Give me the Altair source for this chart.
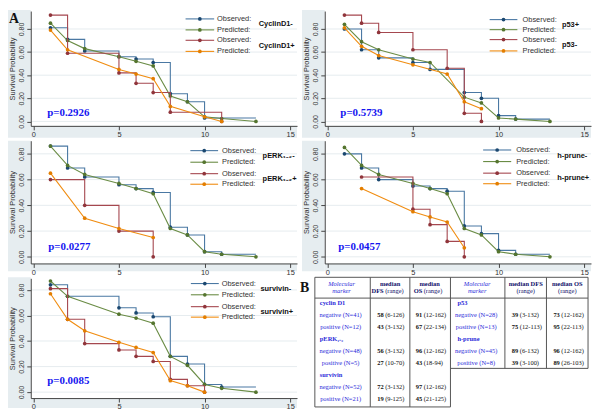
import altair as alt
import pandas as pd

# ---------------- data ----------------
GROUP_A = ["CyclinD1-", "p53+", "pERK\u2081\u208b\u2082-", "h-prune-", "survivin-"]
GROUP_B = ["CyclinD1+", "p53-", "pERK\u2081\u208b\u2082+", "h-prune+", "survivin+"]
P_VALUES = ["p=0.2926", "p=0.5739", "p=0.0277", "p=0.0457", "p=0.0085"]
LAST_FOLLOWUP = 13
Y_TICKS = [0, 0.2, 0.4, 0.6, 0.8]
X_TICKS = [0, 5, 10, 15]

# panel 1: cyclin D1
cyc_obsA_t = [1, 2, 3, 5, 6, 7, 8, 9, 10]
cyc_obsA_s = [0.81, 0.71, 0.61, 0.56, 0.54, 0.51, 0.24, 0.17, 0.03]
cyc_predA_t = [1, 2, 3, 5, 6, 7, 8, 9, 10, 11, 13]
cyc_predA_s = [0.85, 0.70, 0.63, 0.56, 0.52, 0.48, 0.22, 0.17, 0.04, 0.025, 0.0]
cyc_obsB_t = [1, 2, 5, 6, 7, 8, 11]
cyc_obsB_s = [0.92, 0.59, 0.42, 0.33, 0.25, 0.08, 0.0]
cyc_predB_t = [1, 2, 5, 6, 7, 8, 10, 11]
cyc_predB_s = [0.79, 0.62, 0.45, 0.41, 0.37, 0.13, 0.04, 0.0]

# panel 2: p53
p53_obsA_t = [1, 2, 3, 5, 6, 8, 9, 10, 11]
p53_obsA_s = [0.80, 0.62, 0.55, 0.51, 0.45, 0.25, 0.20, 0.05, 0.02]
p53_predA_t = [1, 2, 3, 5, 6, 8, 9, 10, 11, 13]
p53_predA_s = [0.84, 0.69, 0.62, 0.54, 0.51, 0.21, 0.16, 0.03, 0.02, 0.0]
p53_obsB_t = [1, 2, 3, 5, 7, 8, 9]
p53_obsB_s = [0.92, 0.85, 0.77, 0.62, 0.46, 0.07, 0.0]
p53_predB_t = [1, 2, 3, 5, 7, 8, 9]
p53_predB_s = [0.81, 0.65, 0.57, 0.49, 0.41, 0.17, 0.11]

# panel 3: pERK1-2
erk_obsA_t = [1, 2, 3, 5, 6, 7, 8, 9, 10, 11]
erk_obsA_s = [0.86, 0.69, 0.62, 0.56, 0.53, 0.50, 0.23, 0.17, 0.04, 0.02]
erk_predA_t = [1, 2, 3, 5, 6, 7, 8, 9, 10, 11, 13]
erk_predA_s = [0.86, 0.71, 0.64, 0.57, 0.53, 0.49, 0.22, 0.17, 0.04, 0.02, 0.0]
erk_obsB_t = [1, 3, 5, 7]
erk_obsB_s = [0.60, 0.40, 0.20, 0.0]
erk_predB_t = [1, 3, 5, 7]
erk_predB_s = [0.65, 0.30, 0.22, 0.15]

# panel 4: h-prune
hpr_obsA_t = [1, 2, 3, 5, 6, 7, 8, 9, 10, 11]
hpr_obsA_s = [0.80, 0.69, 0.60, 0.55, 0.53, 0.51, 0.24, 0.18, 0.05, 0.02]
hpr_predA_t = [1, 2, 3, 5, 6, 7, 8, 9, 10, 11, 13]
hpr_predA_s = [0.85, 0.71, 0.64, 0.57, 0.53, 0.49, 0.22, 0.17, 0.04, 0.02, 0.0]
hpr_obsB_t = [2, 5, 6, 7, 8]
hpr_obsB_s = [0.62, 0.37, 0.25, 0.12, 0.0]
hpr_predB_t = [2, 5, 6, 7, 8]
hpr_predB_s = [0.53, 0.35, 0.31, 0.27, 0.07]

# panel 5: survivin
sur_obsA_t = [1, 2, 5, 6, 7, 8, 9, 10, 11]
sur_obsA_s = [0.84, 0.75, 0.66, 0.62, 0.59, 0.28, 0.22, 0.06, 0.04]
sur_predA_t = [1, 2, 5, 6, 7, 8, 9, 10, 11, 13]
sur_predA_s = [0.87, 0.75, 0.61, 0.58, 0.54, 0.28, 0.21, 0.06, 0.03, 0.0]
sur_obsB_t = [1, 2, 3, 5, 6, 7, 8, 9, 10]
sur_obsB_s = [0.81, 0.57, 0.38, 0.33, 0.28, 0.24, 0.10, 0.05, 0.0]
sur_predB_t = [1, 2, 3, 5, 6, 7, 8, 9, 10]
sur_predB_s = [0.77, 0.57, 0.48, 0.39, 0.35, 0.31, 0.09, 0.05, 0.0]

PANELS = [
    (cyc_obsA_t, cyc_obsA_s, cyc_predA_t, cyc_predA_s, cyc_obsB_t, cyc_obsB_s, cyc_predB_t, cyc_predB_s),
    (p53_obsA_t, p53_obsA_s, p53_predA_t, p53_predA_s, p53_obsB_t, p53_obsB_s, p53_predB_t, p53_predB_s),
    (erk_obsA_t, erk_obsA_s, erk_predA_t, erk_predA_s, erk_obsB_t, erk_obsB_s, erk_predB_t, erk_predB_s),
    (hpr_obsA_t, hpr_obsA_s, hpr_predA_t, hpr_predA_s, hpr_obsB_t, hpr_obsB_s, hpr_predB_t, hpr_predB_s),
    (sur_obsA_t, sur_obsA_s, sur_predA_t, sur_predA_s, sur_obsB_t, sur_obsB_s, sur_predB_t, sur_predB_s),
]

# table B
TBL_L_GROUPS = ["cyclin D1", "pERK\u2081\u208b\u2082", "survivin"]
TBL_L_SUB = ["negative (N=41)", "positive (N=12)", "negative (N=48)",
             "positive (N=5)", "negative (N=52)", "positive (N=21)"]
TBL_L_DFS_MED = ["58", "43", "56", "27", "72", "19"]
TBL_L_DFS_RNG = ["(6-126)", "(3-132)", "(3-132)", "(10-70)", "(3-132)", "(9-125)"]
TBL_L_OS_MED = ["91", "67", "96", "43", "97", "45"]
TBL_L_OS_RNG = ["(12-162)", "(22-134)", "(12-162)", "(18-94)", "(12-162)", "(21-125)"]
TBL_R_GROUPS = ["p53", "h-prune"]
TBL_R_SUB = ["negative (N=28)", "positive (N=13)", "negative (N=45)", "positive (N=8)"]
TBL_R_DFS_MED = ["39", "75", "89", "39"]
TBL_R_DFS_RNG = ["(3-132)", "(12-113)", "(6-132)", "(3-100)"]
TBL_R_OS_MED = ["73", "95", "96", "89"]
TBL_R_OS_RNG = ["(12-162)", "(22-113)", "(12-162)", "(26-103)"]

# ---------------- styling / layout ----------------
BLUE_L, BLUE_M = "#4a78a3", "#1a476f"
GREEN_L, GREEN_M = "#6a8c45", "#55752f"
MAROON_L, MAROON_M = "#a5474f", "#90353b"
ORANGE_L, ORANGE_M = "#f08c10", "#e37e00"
GRAYBG = "#e6edf0"
GRIDC = "#e6ecef"
W = 269
XDOM = [-0.15, 15.4]
ROWS = [
    dict(H=116, ydom=[-0.0385, 0.955], top=-1, bottom=12),
    dict(H=124, ydom=[-0.0515, 0.902], top=0, bottom=8),
    dict(H=121, ydom=[-0.0465, 0.891], top=-1, bottom=10),
]
LEG = [
    dict(x0=8.89, x1=10.56, xt=10.73, xg=13.16, ys=[0.887, 0.792, 0.702, 0.606]),
    dict(x0=9.48, x1=11.1, xt=11.4, xg=13.7, ys=[0.881, 0.794, 0.708, 0.61]),
    dict(x0=9.17, x1=10.79, xt=11.02, xg=13.39, ys=[0.825, 0.735, 0.646, 0.564]),
    dict(x0=9.1, x1=10.74, xt=11.03, xg=13.43, ys=[0.83, 0.74, 0.65, 0.568]),
    dict(x0=9.2, x1=10.83, xt=11.0, xg=13.26, ys=[0.85, 0.762, 0.669, 0.587]),
]
PVAL_POS = [(0.81, 0.076), (0.76, 0.073), (0.87, 0.074), (0.64, 0.077), (0.81, 0.083)]

x_axis = alt.Axis(values=X_TICKS, format="d", title=None, grid=False,
                  tickSize=4, labelFontSize=7.5, labelPadding=1, labelColor="#333",
                  domainColor="#444", tickColor="#444", labelFont="Liberation Sans",
                  zindex=1)
y_axis = alt.Axis(values=Y_TICKS, format=".2f",
                  title="Survival Probability", titleFontSize=7.5,
                  titleFontWeight="normal", titleColor="#333", titlePadding=1,
                  titleFont="Liberation Sans",
                  labelAngle=270, labelAlign="center", labelBaseline="bottom",
                  labelFontSize=7, labelPadding=2, labelColor="#333",
                  labelFont="Liberation Sans",
                  tickSize=4, domainColor="#444", tickColor="#444",
                  grid=False, zindex=1)


def km_panel(i):
    row = ROWS[i // 2]
    H = row["H"]
    xs = alt.Scale(domain=XDOM, nice=False, zero=False)
    ys = alt.Scale(domain=row["ydom"], nice=False, zero=False)

    def X(f):
        return alt.X(f, type="quantitative", scale=xs, axis=x_axis)

    def Y(f):
        return alt.Y(f, type="quantitative", scale=ys, axis=y_axis)

    one = pd.DataFrame({"k": [0]})
    grid_df = pd.DataFrame({"g": Y_TICKS})
    layers = [
        alt.Chart(one).mark_rect(color=GRAYBG).encode(
            x=alt.value(-23), x2=alt.value(0), y=alt.value(row["top"]),
            y2=alt.value(H + row["bottom"])),
        alt.Chart(one).mark_rect(color=GRAYBG).encode(
            x=alt.value(0), x2=alt.value(W), y=alt.value(H),
            y2=alt.value(H + row["bottom"])),
        alt.Chart(grid_df).mark_rule(color=GRIDC, strokeWidth=1).encode(
            x=alt.value(0), x2=alt.value(W), y=Y("g")),
    ]
    (oAt, oAs, pAt, pAs, oBt, oBs, pBt, pBs) = PANELS[i]
    series = [
        (oAt, oAs, BLUE_L, BLUE_M, True, LAST_FOLLOWUP),
        (pAt, pAs, GREEN_L, GREEN_M, False, None),
        (oBt, oBs, MAROON_L, MAROON_M, True, None),
        (pBt, pBs, ORANGE_L, ORANGE_M, False, None),
    ]
    for t, s, lc, pc, step, tail in series:
        tl = list(t) + ([tail] if tail else [])
        sl = list(s) + ([s[-1]] if tail else [])
        ldf = pd.DataFrame({"t": tl, "s": sl})
        pdf = pd.DataFrame({"t": t, "s": s})
        layers.append(alt.Chart(ldf).mark_line(
            interpolate="step-after" if step else "linear",
            color=lc, strokeWidth=1.1).encode(x=X("t"), y=Y("s")))
        layers.append(alt.Chart(pdf).mark_circle(
            color=pc, size=14, opacity=1).encode(x=X("t"), y=Y("s")))

    lg = LEG[i]
    leg_df = pd.DataFrame({
        "x0": [lg["x0"]] * 4, "x1": [lg["x1"]] * 4,
        "xm": [(lg["x0"] + lg["x1"]) / 2] * 4, "xt": [lg["xt"]] * 4,
        "y": lg["ys"],
        "lc": [BLUE_L, GREEN_L, MAROON_L, ORANGE_L],
        "pc": [BLUE_M, GREEN_M, MAROON_M, ORANGE_M],
        "txt": ["Observed:", "Predicted:", "Observed:", "Predicted:"],
    })
    layers.append(alt.Chart(leg_df).mark_rule(strokeWidth=1.1).encode(
        x=X("x0"), x2="x1", y=Y("y"), color=alt.Color("lc:N", scale=None)))
    layers.append(alt.Chart(leg_df).mark_circle(size=14, opacity=1).encode(
        x=X("xm"), y=Y("y"), color=alt.Color("pc:N", scale=None)))
    layers.append(alt.Chart(leg_df).mark_text(
        align="left", baseline="middle", fontSize=7.5, font="Liberation Sans",
        color="#333").encode(x=X("xt"), y=Y("y"), text="txt:N"))
    grp_df = pd.DataFrame({
        "x": [lg["xg"]] * 2,
        "y": [(lg["ys"][0] + lg["ys"][1]) / 2, (lg["ys"][2] + lg["ys"][3]) / 2],
        "txt": [GROUP_A[i], GROUP_B[i]],
    })
    layers.append(alt.Chart(grp_df).mark_text(
        align="left", baseline="middle", fontSize=7.5, fontWeight="bold",
        font="Liberation Sans", color="#111").encode(
        x=X("x"), y=Y("y"), text="txt:N"))
    pv_df = pd.DataFrame({"x": [PVAL_POS[i][0]], "y": [PVAL_POS[i][1]],
                          "txt": [P_VALUES[i]]})
    layers.append(alt.Chart(pv_df).mark_text(
        align="left", baseline="middle", fontSize=11, fontWeight="bold",
        font="Liberation Serif", color="#1414f0").encode(
        x=X("x"), y=Y("y"), text="txt:N"))
    if i == 0:
        layers.append(alt.Chart(one).mark_text(
            text="A", align="left", baseline="alphabetic", fontSize=14,
            fontWeight="bold", font="Liberation Serif", color="#111").encode(
            x=alt.value(-22), y=alt.value(12)))
    return alt.layer(*layers).properties(width=W, height=H)


# ---------------- table B ----------------
TBL_XDOM = [328, 328 + W]
TBL_YDOM = [-2.091, 7.909]
COL_LINES = [318, 374, 414, 455, 510, 552, 594]
Y_TOP, Y_HEAD, Y_RBOT, Y_LBOT = -2.174, -0.438, 5.43, 8.65
SPLITS = [387.5, 426.5, 523.5, 565.5]
HEAD_CX = [345, 394, 434, 482, 531, 573]
TXT_BLUE = "#2b2bd9"
NAVY = "#10106a"


def table_panel():
    xs = alt.Scale(domain=TBL_XDOM, nice=False, zero=False)
    ys = alt.Scale(domain=TBL_YDOM, nice=False, zero=False, reverse=True)

    def X(f):
        return alt.X(f, type="quantitative", scale=xs, axis=None)

    def Y(f):
        return alt.Y(f, type="quantitative", scale=ys, axis=None)

    hl = pd.DataFrame({
        "x": [COL_LINES[0], COL_LINES[0], COL_LINES[3], COL_LINES[0]],
        "x2": [COL_LINES[6], COL_LINES[6], COL_LINES[6], COL_LINES[3]],
        "y": [Y_TOP, Y_HEAD, Y_RBOT, Y_LBOT]})
    vl = pd.DataFrame({
        "x": COL_LINES,
        "y": [Y_TOP] * 7,
        "y2": [Y_LBOT] * 4 + [Y_RBOT] * 3})
    layers = [
        alt.Chart(hl).mark_rule(color="#555", strokeWidth=1).encode(
            x=X("x"), x2="x2", y=Y("y")),
        alt.Chart(vl).mark_rule(color="#555", strokeWidth=1).encode(
            x=X("x"), y=Y("y"), y2="y2"),
    ]
    serif = "Liberation Serif"
    fs = 6.5
    # headers
    h_it = pd.DataFrame({"x": [HEAD_CX[0], HEAD_CX[0], HEAD_CX[3], HEAD_CX[3]],
                         "y": [-1.6, -0.99, -1.6, -0.99],
                         "txt": ["Molecular", "marker", "Molecular", "marker"]})
    layers.append(alt.Chart(h_it).mark_text(
        font=serif, fontSize=fs, fontStyle="italic", color=TXT_BLUE,
        baseline="middle").encode(x=X("x"), y=Y("y"), text="txt:N"))
    h_b = pd.DataFrame({"x": [HEAD_CX[1], HEAD_CX[2], HEAD_CX[4], HEAD_CX[5]],
                        "y": [-1.6] * 4,
                        "txt": ["median", "median", "median DFS", "median OS"]})
    layers.append(alt.Chart(h_b).mark_text(
        font=serif, fontSize=fs, fontWeight="bold", color=NAVY,
        baseline="middle").encode(x=X("x"), y=Y("y"), text="txt:N"))
    h_b2 = pd.DataFrame({"x": [SPLITS[0], SPLITS[1]], "y": [-0.99] * 2,
                         "txt": ["DFS", "OS"]})
    layers.append(alt.Chart(h_b2).mark_text(
        font=serif, fontSize=fs, fontWeight="bold", color=NAVY, align="right",
        baseline="middle").encode(x=X("x"), y=Y("y"), text="txt:N"))
    h_r = pd.DataFrame({"x": [SPLITS[0] + 1.5, SPLITS[1] + 1.5],
                        "y": [-0.99] * 2, "txt": ["(range)", "(range)"]})
    layers.append(alt.Chart(h_r).mark_text(
        font=serif, fontSize=fs, color=NAVY, align="left",
        baseline="middle").encode(x=X("x"), y=Y("y"), text="txt:N"))
    h_r2 = pd.DataFrame({"x": [HEAD_CX[4], HEAD_CX[5]], "y": [-0.99] * 2,
                         "txt": ["(range)", "(range)"]})
    layers.append(alt.Chart(h_r2).mark_text(
        font=serif, fontSize=fs, color=NAVY,
        baseline="middle").encode(x=X("x"), y=Y("y"), text="txt:N"))

    # group labels
    g_df = pd.DataFrame({
        "x": [323] * len(TBL_L_GROUPS) + [462] * len(TBL_R_GROUPS),
        "y": [0, 3, 6] + [0, 3],
        "txt": TBL_L_GROUPS + TBL_R_GROUPS})
    layers.append(alt.Chart(g_df).mark_text(
        font=serif, fontSize=fs, fontWeight="bold", color=TXT_BLUE, align="left",
        baseline="middle").encode(x=X("x"), y=Y("y"), text="txt:N"))
    l_rows = [1, 2, 4, 5, 7, 8]
    r_rows = [1, 2, 4, 5]
    s_df = pd.DataFrame({
        "x": [344] * len(TBL_L_SUB) + [481] * len(TBL_R_SUB),
        "y": l_rows + r_rows,
        "txt": TBL_L_SUB + TBL_R_SUB})
    layers.append(alt.Chart(s_df).mark_text(
        font=serif, fontSize=fs, color=TXT_BLUE,
        baseline="middle").encode(x=X("x"), y=Y("y"), text="txt:N"))
    med_df = pd.DataFrame({
        "x": [SPLITS[0]] * 6 + [SPLITS[1]] * 6 + [SPLITS[2]] * 4 + [SPLITS[3]] * 4,
        "y": l_rows + l_rows + r_rows + r_rows,
        "txt": TBL_L_DFS_MED + TBL_L_OS_MED + TBL_R_DFS_MED + TBL_R_OS_MED})
    layers.append(alt.Chart(med_df).mark_text(
        font=serif, fontSize=fs, fontWeight="bold", color="#111", align="right",
        baseline="middle").encode(x=X("x"), y=Y("y"), text="txt:N"))
    rng_df = pd.DataFrame({
        "x": [SPLITS[0] + 1.5] * 6 + [SPLITS[1] + 1.5] * 6
             + [SPLITS[2] + 1.5] * 4 + [SPLITS[3] + 1.5] * 4,
        "y": l_rows + l_rows + r_rows + r_rows,
        "txt": TBL_L_DFS_RNG + TBL_L_OS_RNG + TBL_R_DFS_RNG + TBL_R_OS_RNG})
    layers.append(alt.Chart(rng_df).mark_text(
        font=serif, fontSize=fs, color="#111", align="left",
        baseline="middle").encode(x=X("x"), y=Y("y"), text="txt:N"))
    one = pd.DataFrame({"k": [0]})
    layers.append(alt.Chart(one).mark_text(
        text="B", align="left", baseline="alphabetic", fontSize=14,
        fontWeight="bold", font=serif, color="#111").encode(
        x=alt.value(303 - 328), y=alt.value(293 - 279)))
    return alt.layer(*layers).properties(width=W, height=ROWS[2]["H"])


panels = [km_panel(i) for i in range(5)] + [table_panel()]
chart = alt.concat(*panels, columns=2, spacing={"row": 15, "column": 28},
                   bounds="flush").properties(
    padding=0, background="white").configure_view(stroke=None)

chart.save("out.html", embed_options={"renderer": "svg", "actions": False})
